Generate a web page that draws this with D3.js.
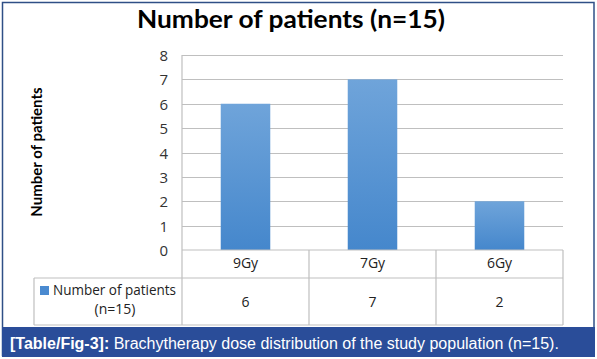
<!DOCTYPE html>
<html><head><meta charset="utf-8">
<script src="https://cdn.jsdelivr.net/npm/d3@7"></script>
<style>body{margin:0;background:#fff}svg{display:block}</style>
</head><body>
<svg id="c" width="597" height="359"></svg>
<script>
const categories = ["9Gy", "7Gy", "6Gy"];
const values = [6, 7, 2];
const yTicks = [0, 1, 2, 3, 4, 5, 6, 7, 8];
const seriesName = ["Number of patients", "(n=15)"];
const title = "Number of patients (n=15)";
const yTitle = "Number of patients";
const captionBold = "[Table/Fig-3]:";
const captionText = " Brachytherapy dose distribution of the study population (n=15).";

const svg = d3.select("#c");
const plot = {left: 182, right: 563, top: 55, bottom: 250};
const tableBottom = 325, rowLine = 278, legendLeft = 34;

const defs = svg.append("defs");
const g = defs.append("linearGradient").attr("id","bg").attr("x1",0).attr("y1",0).attr("x2",0).attr("y2",1);
g.append("stop").attr("offset","0%").attr("stop-color","#6fa4da");
g.append("stop").attr("offset","100%").attr("stop-color","#4587cc");

const x = d3.scaleBand().domain(categories).range([plot.left, plot.right]).padding(0);
const y = d3.scaleLinear().domain([0, 8]).range([plot.bottom, plot.top]);
const barW = x.bandwidth() * 0.39;

svg.append("g").selectAll("line").data(yTicks.slice(1)).join("line")
  .attr("x1", plot.left).attr("x2", plot.right)
  .attr("y1", d => Math.round(y(d)) + 0.5).attr("y2", d => Math.round(y(d)) + 0.5)
  .attr("stroke", "#bfbfbf").attr("stroke-width", 1);

svg.append("g").selectAll("rect").data(values).join("rect")
  .attr("x", (d,i) => x(categories[i]) + (x.bandwidth() - barW)/2)
  .attr("width", barW)
  .attr("y", d => y(d)).attr("height", d => y(0) - y(d))
  .attr("fill", "url(#bg)");

svg.append("g").selectAll("text").data(yTicks).join("text")
  .attr("x", 168).attr("y", d => y(d) + 6)
  .attr("text-anchor", "end")
  .attr("font-family", "Open Sans, sans-serif").attr("font-size", 15)
  .attr("fill", "#333").text(d => d);

const tl = svg.append("g").attr("stroke", "#bfbfbf").attr("stroke-width", 1.2).attr("fill","none");
tl.append("line").attr("x1", plot.left).attr("x2", plot.left).attr("y1", plot.top).attr("y2", tableBottom);
tl.append("line").attr("x1", plot.left).attr("x2", plot.right).attr("y1", plot.bottom).attr("y2", plot.bottom);
tl.append("line").attr("x1", legendLeft).attr("x2", plot.right).attr("y1", rowLine).attr("y2", rowLine);
tl.append("line").attr("x1", legendLeft).attr("x2", plot.right).attr("y1", tableBottom).attr("y2", tableBottom);
tl.append("line").attr("x1", legendLeft).attr("x2", legendLeft).attr("y1", rowLine).attr("y2", tableBottom);
categories.forEach(c => {
  tl.append("line").attr("x1", x(c) + x.bandwidth()).attr("x2", x(c) + x.bandwidth())
    .attr("y1", plot.bottom).attr("y2", tableBottom);
});

svg.append("g").selectAll("text").data(categories).join("text")
  .attr("x", d => x(d) + x.bandwidth()/2).attr("y", 268)
  .attr("text-anchor", "middle")
  .attr("font-family", "Open Sans, sans-serif").attr("font-size", 14)
  .attr("fill", "#222").text(d => d);

svg.append("g").selectAll("text").data(values).join("text")
  .attr("x", (d,i) => x(categories[i]) + x.bandwidth()/2).attr("y", 307)
  .attr("text-anchor", "middle")
  .attr("font-family", "Open Sans, sans-serif").attr("font-size", 14)
  .attr("fill", "#222").text(d => d);

svg.append("rect").attr("x", 40).attr("y", 286).attr("width", 9).attr("height", 9).attr("fill", "#4a8ad0");
svg.append("text").attr("x", 53).attr("y", 295)
  .attr("font-family", "Open Sans, sans-serif").attr("font-size", 14)
  .attr("textLength", 123).attr("lengthAdjust", "spacingAndGlyphs")
  .attr("fill", "#222").text(seriesName[0]);
svg.append("text").attr("x", 115).attr("y", 314).attr("text-anchor","middle")
  .attr("font-family", "Open Sans, sans-serif").attr("font-size", 14).attr("fill", "#222").text(seriesName[1]);

svg.append("text").attr("x", 291).attr("y", 28).attr("text-anchor", "middle")
  .attr("font-family", "Lato, sans-serif").attr("font-weight", "bold").attr("font-size", 25)
  .attr("textLength", 308).attr("lengthAdjust", "spacingAndGlyphs")
  .attr("fill", "#000").text(title);

svg.append("text").attr("transform", "translate(42,152) rotate(-90)").attr("text-anchor", "middle")
  .attr("font-family", "Lato, sans-serif").attr("font-weight", "bold").attr("font-size", 15)
  .attr("fill", "#000").text(yTitle);

svg.append("rect").attr("x", 2.5).attr("y", 2.5).attr("width", 591.5).attr("height", 353)
  .attr("fill", "none").attr("stroke", "#2f4f86").attr("stroke-width", 1.5);

svg.append("rect").attr("x", 2).attr("y", 327).attr("width", 593).attr("height", 30).attr("fill", "#2a4d99");
const cap = svg.append("text").attr("x", 10).attr("y", 349)
  .attr("font-family", "Liberation Sans, Arial, sans-serif").attr("font-size", 16).attr("fill", "#fff");
cap.append("tspan").attr("font-weight", "bold").text(captionBold);
cap.append("tspan").text(captionText);
</script>
</body></html>
